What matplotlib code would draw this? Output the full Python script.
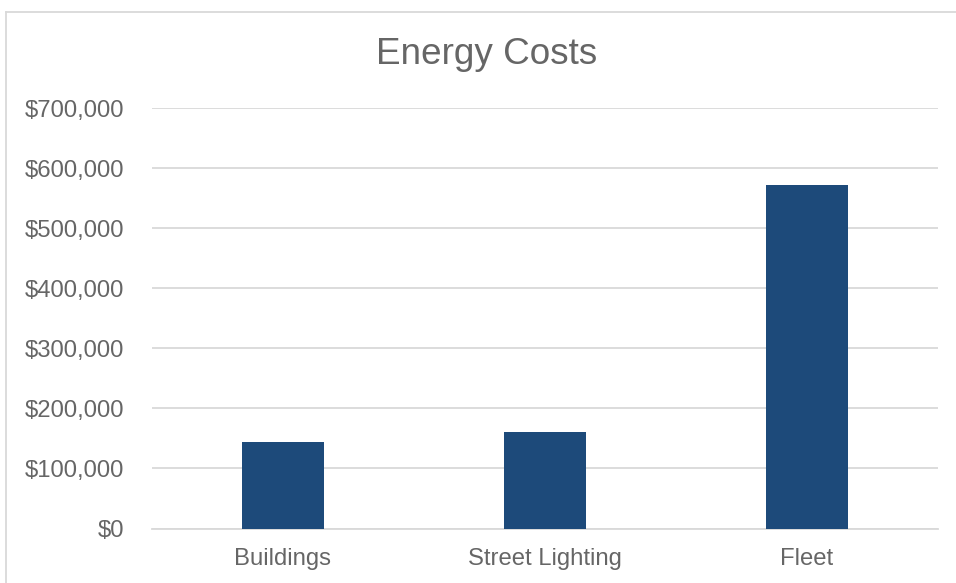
import matplotlib.pyplot as plt
from matplotlib.ticker import FuncFormatter, MultipleLocator

categories = ["Buildings", "Street Lighting", "Fleet"]
costs = [144000, 160000, 572000]

plt.rcParams['font.family'] = ['Liberation Sans', 'DejaVu Sans']
text_col = '#666666'
grid_col = '#d9d9d9'

fig = plt.figure(figsize=(9.56, 5.83), dpi=100)
ax = fig.add_axes([152/956, 1 - 528.5/583, (938-152)/956, (528.5-108)/583])

x = range(len(categories))
ax.bar(x, costs, width=0.313, color='#1d4a7a', zorder=3)

ax.set_xlim(-0.5, len(categories) - 0.5)
ax.set_ylim(0, 700000)
ax.yaxis.set_major_locator(MultipleLocator(100000))
ax.yaxis.set_major_formatter(FuncFormatter(lambda v, p: f"${v:,.0f}"))
ax.set_xticks(list(x))
ax.set_xticklabels(categories)

ax.grid(axis='y', color=grid_col, linewidth=1.3, zorder=0)
for s in ['top', 'right', 'left']:
    ax.spines[s].set_visible(False)
ax.spines['bottom'].set_color(grid_col)
ax.spines['bottom'].set_linewidth(1.3)
ax.tick_params(axis='both', length=0, labelsize=17.2, colors=text_col)
ax.tick_params(axis='y', pad=20)
ax.tick_params(axis='x', pad=14)

fig.text(487/956, 1 - 55/583, "Energy Costs", ha='center', va='center',
         fontsize=26.6, color=text_col)

# chart frame (only left and top edges visible in the crop)
fig.add_artist(plt.Line2D([6/956, 6/956], [0, 1 - 12/583], transform=fig.transFigure,
                          color=grid_col, linewidth=1.3))
fig.add_artist(plt.Line2D([6/956, 1], [1 - 12/583, 1 - 12/583], transform=fig.transFigure,
                          color=grid_col, linewidth=1.3))

fig.savefig('out.png', dpi=100)
